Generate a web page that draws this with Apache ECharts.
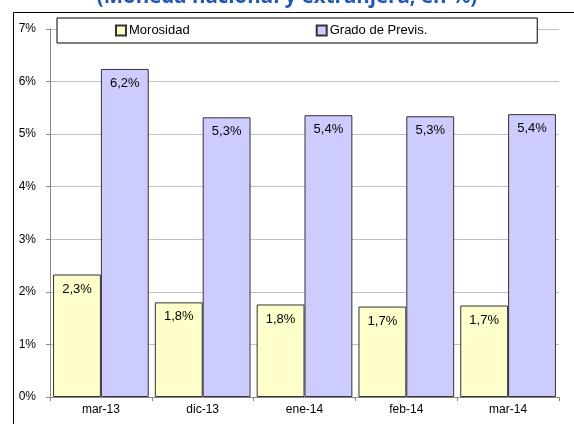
<!DOCTYPE html>
<html>
<head>
<meta charset="utf-8">
<script src="https://cdn.jsdelivr.net/npm/echarts@6/dist/echarts.min.js"></script>
<style>
  html, body { margin: 0; padding: 0; background: #fff; }
  #chart { width: 574px; height: 424px; }
</style>
</head>
<body>
<div id="chart"></div>
<script>
// datos
const categorias = ["mar-13", "dic-13", "ene-14", "feb-14", "mar-14"];
const morosidad = [2.33, 1.80, 1.76, 1.72, 1.74];
const gradoPrevis = [6.24, 5.32, 5.36, 5.34, 5.38];
const yTicks = { min: 0, max: 7, interval: 1 };

const fmtPct = (p) => p.value.toFixed(1).replace(".", ",") + "%";

const chart = echarts.init(document.getElementById("chart"));

const barLabel = {
  show: true,
  position: "insideTop",
  distance: 8,
  color: "#000",
  fontFamily: "Liberation Sans",
  fontSize: 13,
  formatter: fmtPct,
};

chart.setOption({
  animation: false,
  backgroundColor: "#fff",
  graphic: [
    {
      type: "text",
      left: "center",
      top: -13,
      style: {
        text: "(Moneda nacional y extranjera, en %)",
        fill: "#2058b4",
        font: "bold 20.5px 'Open Sans'",
      },
    },
    {
      type: "rect",
      left: 11,
      top: 10,
      shape: { width: 600, height: 440 },
      style: { fill: "none", stroke: "#000", lineWidth: 1 },
      silent: true,
    },
  ],
  legend: {
    left: 57,
    top: 18,
    padding: [6, 110, 6, 58],
    itemGap: 126,
    itemWidth: 10,
    itemHeight: 10,
    icon: "rect",
    borderColor: "#000",
    borderWidth: 1,
    backgroundColor: "#fff",
    textStyle: { fontFamily: "Liberation Sans", fontSize: 13, color: "#000", padding: [0, 0, 0, -2] },
    data: ["Morosidad", "Grado de Previs."],
  },
  grid: { left: 50, right: 15, top: 29, bottom: 27 },
  xAxis: {
    type: "category",
    data: categorias,
    axisLine: { lineStyle: { color: "#888" } },
    axisTick: { show: true, length: 4, lineStyle: { color: "#888" } },
    axisLabel: { color: "#000", fontFamily: "Liberation Sans", fontSize: 12, margin: 7 },
  },
  yAxis: {
    type: "value",
    min: yTicks.min,
    max: yTicks.max,
    interval: yTicks.interval,
    axisLine: { show: true, lineStyle: { color: "#888" } },
    axisTick: { show: true, length: 4, lineStyle: { color: "#888" } },
    axisLabel: { color: "#000", fontFamily: "Liberation Sans", fontSize: 12, margin: 14, formatter: "{value}%" },
    splitLine: { lineStyle: { color: "#c0c0c0" } },
  },
  series: [
    {
      name: "Morosidad",
      type: "bar",
      data: morosidad,
      barGap: "0%",
      barCategoryGap: "6%",
      itemStyle: { color: "#ffffcc", borderColor: "#333", borderWidth: 1 },
      label: barLabel,
    },
    {
      name: "Grado de Previs.",
      type: "bar",
      data: gradoPrevis,
      itemStyle: { color: "#ccccff", borderColor: "#333", borderWidth: 1 },
      label: barLabel,
    },
  ],
});
</script>
</body>
</html>
